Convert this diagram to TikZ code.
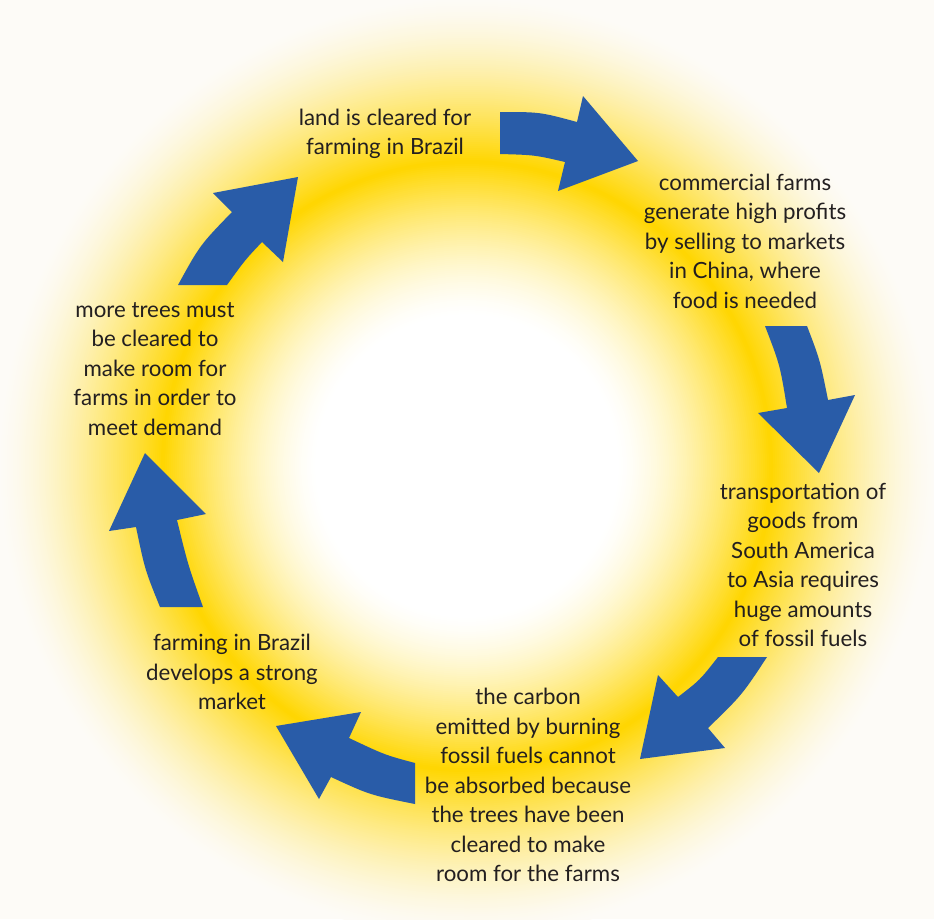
\documentclass[tikz,border=0pt]{standalone}
\usepackage{fontspec}
\setmainfont{Lato}
\definecolor{ringY}{RGB}{255,214,0}
\definecolor{bgc}{RGB}{253,251,247}
\definecolor{arrowblue}{RGB}{41,92,168}
\definecolor{txt}{RGB}{35,31,32}
\tikzset{
  lbl/.style={align=center, text=txt, font=\fontsize{22.3}{29.5}\selectfont, inner sep=0pt},
  blockarrow/.style={fill=arrowblue, draw=none}
}
\begin{document}
\begin{tikzpicture}[x=1pt,y=-1pt]
\useasboundingbox (0,0) rectangle (934,919);
\fill[bgc] (0,0) rectangle (934,919);
% glow ring
\foreach \r in {470,468,...,150}{
  \pgfmathsetmacro{\d}{abs(\r-305)}
  \pgfmathsetmacro{\w}{\r<305 ? 155 : 165}
  \pgfmathsetmacro{\t}{max(0,1-\d/\w)}
  \pgfmathsetmacro{\p}{100*\t^1.5}
  \ifnum\r<305 \colorlet{cc}{ringY!\p!white}\else\colorlet{cc}{ringY!\p!bgc}\fi
  \fill[cc] (467,466) circle (\r pt);
}
\fill[white] (467,466) circle (150pt);
% arrows
\fill[blockarrow] (500,112) .. controls (540,112) .. (577,122) -- (583,96) -- (638,161) -- (558,191) -- (565,162) .. controls (535,155) .. (500,154) -- cycle;
\fill[blockarrow] (765,326) -- (807,326) .. controls (820,360) .. (828,400) -- (855,395) -- (819,473) -- (758,413) -- (787,408) .. controls (780,365) .. (765,326) -- cycle;
\fill[blockarrow] (767,657) .. controls (742,695) .. (708,728) -- (725,748) -- (640,759) -- (658,675) -- (678,697) .. controls (700,680) .. (718,657) -- cycle;
\fill[blockarrow] (415,763) -- (415,804) .. controls (370,795) .. (331,777) -- (319,799) -- (276,726) -- (361,712) -- (349,738) .. controls (385,755) .. (415,763) -- cycle;
\fill[blockarrow] (160,607) -- (203,607) .. controls (188,565) .. (177,520) -- (206,514) -- (145,453) -- (109,531) -- (136,527) .. controls (145,570) .. (160,607) -- cycle;
\fill[blockarrow] (178,285) -- (227,285) .. controls (245,260) .. (262,242) -- (283,262) -- (298,177) -- (213,193) -- (232,212) .. controls (200,245) .. (178,285) -- cycle;
% texts
\node[lbl] (t1) at (385,134) {land is cleared for\\farming in Brazil};
\node[lbl] (t2) at (745,241) {commercial farms\\generate high profits\\by selling to markets\\in China, where\\food is needed};
\node[lbl] (t3) at (803,565) {transportation of\\goods from\\South America\\to Asia requires\\huge amounts\\of fossil fuels};
\node[lbl] (t4) at (528,785) {the carbon\\emitted by burning\\fossil fuels cannot\\be absorbed because\\the trees have been\\cleared to make\\room for the farms};
\node[lbl] (t5) at (232,672) {farming in Brazil\\develops a strong\\market};
\node[lbl] (t6) at (155,369) {more trees must\\be cleared to\\make room for\\farms in order to\\meet demand};
\end{tikzpicture}
\end{document}
